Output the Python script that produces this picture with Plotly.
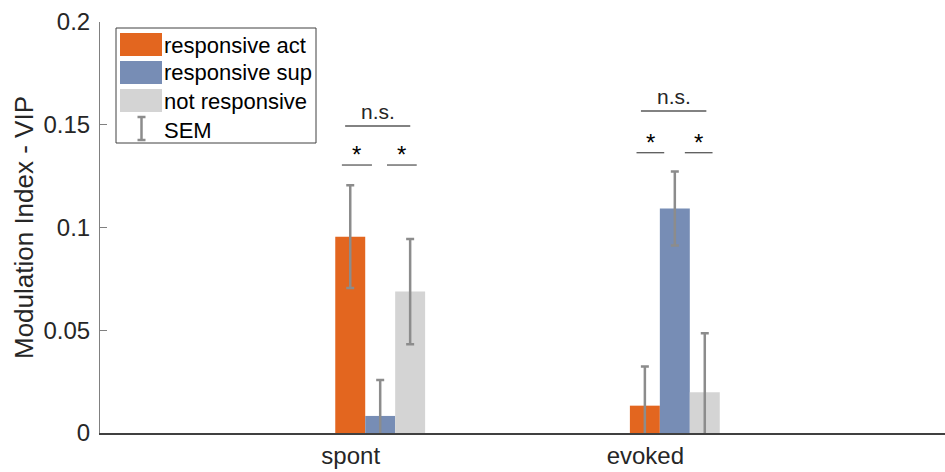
import plotly.graph_objects as go

# ---- data ----
categories = ["spont", "evoked"]
series_names = ["responsive act", "responsive sup", "not responsive"]
series_colors = ["#E3661F", "#778DB5", "#D4D4D4"]
values = {
    "responsive act": [0.0955, 0.0133],
    "responsive sup": [0.0083, 0.1093],
    "not responsive": [0.0688, 0.0198],
}
sem = {
    "responsive act": [0.0250, 0.0190],
    "responsive sup": [0.0175, 0.0180],
    "not responsive": [0.0256, 0.0287],
}
y_ticks = [0, 0.05, 0.1, 0.15, 0.2]
y_ticktext = ["0", "0.05", "0.1", "0.15", "0.2"]

# significance brackets: (category index, x offset start, x offset end, y, label)
sig_brackets = [
    (0, -0.119, 0.102, 0.1494, "n.s."),
    (0, -0.130, -0.028, 0.1304, "*"),
    (0, 0.023, 0.124, 0.1304, "*"),
    (1, -0.115, 0.107, 0.1567, "n.s."),
    (1, -0.130, -0.036, 0.1364, "*"),
    (1, 0.034, 0.128, 0.1364, "*"),
]

W, H = 945, 472
L, R, T, B = 100, 0, 22, 39
FONT = "Liberation Sans, Arial, sans-serif"
TXT = "#262626"
ERR = "#8C8C8C"

tickpos = [i + 1 for i in range(len(categories))]
GROUP_SHIFT = 0.1  # bar groups sit slightly right of the category tick
xpos = [t + GROUP_SHIFT for t in tickpos]

fig = go.Figure()
for name, col in zip(series_names, series_colors):
    fig.add_trace(go.Bar(
        x=xpos, y=values[name], name=name, marker_color=col,
        marker_line_width=0,
        error_y=dict(type="data", array=sem[name], color=ERR, thickness=2.5, width=4),
        showlegend=False,
    ))

shapes = []
annotations = []
for ci, x0, x1, y, lab in sig_brackets:
    xc = xpos[ci]
    shapes.append(dict(type="line", xref="x", yref="y", x0=xc + x0, x1=xc + x1, y0=y, y1=y,
                       line=dict(color="#595959", width=1.3)))
    if lab == "*":
        annotations.append(dict(x=xc + (x0 + x1) / 2, y=y, xref="x", yref="y", text="*",
                                showarrow=False, yanchor="bottom", yshift=-5,
                                font=dict(family=FONT, size=24, color="black")))
    else:
        annotations.append(dict(x=xc + (x0 + x1) / 2, y=y, xref="x", yref="y", text=lab,
                                showarrow=False, yanchor="bottom", yshift=1,
                                font=dict(family=FONT, size=21, color=TXT)))

# custom legend (pixel helpers -> paper coords)
pw, ph = W - L - R, H - T - B
def px(x):
    return (x - L) / pw
def py(y):
    return 1 - (y - T) / ph

shapes.append(dict(type="rect", xref="paper", yref="paper", x0=px(116), x1=px(316),
                   y0=py(143), y1=py(28), line=dict(color="#404040", width=1), fillcolor="white"))
rows = [45, 73, 101, 130]
for (name, col), yc in zip(zip(series_names, series_colors), rows[:3]):
    shapes.append(dict(type="rect", xref="paper", yref="paper", x0=px(120), x1=px(162),
                       y0=py(yc + 11), y1=py(yc - 12), line=dict(width=0), fillcolor=col))
    annotations.append(dict(x=px(162), y=py(yc), xref="paper", yref="paper", text=name,
                            showarrow=False, xanchor="left", yanchor="middle",
                            font=dict(family=FONT, size=22, color="black")))
# SEM icon
shapes.append(dict(type="line", xref="paper", yref="paper", x0=px(141.5), x1=px(141.5),
                   y0=py(140), y1=py(117), line=dict(color=ERR, width=2.5)))
for yy in (117, 140):
    shapes.append(dict(type="line", xref="paper", yref="paper", x0=px(137.5), x1=px(145.5),
                       y0=py(yy), y1=py(yy), line=dict(color=ERR, width=2.5)))
annotations.append(dict(x=px(162), y=py(rows[3]), xref="paper", yref="paper", text="SEM",
                        showarrow=False, xanchor="left", yanchor="middle",
                        font=dict(family=FONT, size=22, color="black")))

fig.update_layout(
    width=W, height=H,
    margin=dict(l=L, r=R, t=T, b=B, autoexpand=False),
    paper_bgcolor="white", plot_bgcolor="white",
    barmode="group", bargap=0.695, bargroupgap=0,
    shapes=shapes, annotations=annotations,
    font=dict(family=FONT, color=TXT),
    xaxis=dict(range=[0.149, 3.017], tickvals=tickpos, ticktext=categories,
               showgrid=False, zeroline=False, showline=True, linecolor="#404040", linewidth=1.5,
               ticks="", tickfont=dict(size=24, color=TXT)),
    yaxis=dict(range=[0, 0.2], tickvals=y_ticks, ticktext=y_ticktext,
               showgrid=False, zeroline=False, showline=True, linecolor="#808080", linewidth=1,
               ticks="inside", ticklen=7, tickcolor="#808080", ticklabelstandoff=4,
               tickfont=dict(size=24, color=TXT),
               title=dict(text="Modulation Index - VIP", font=dict(size=26, color=TXT), standoff=2)),
)

fig.write_html("out.html")
